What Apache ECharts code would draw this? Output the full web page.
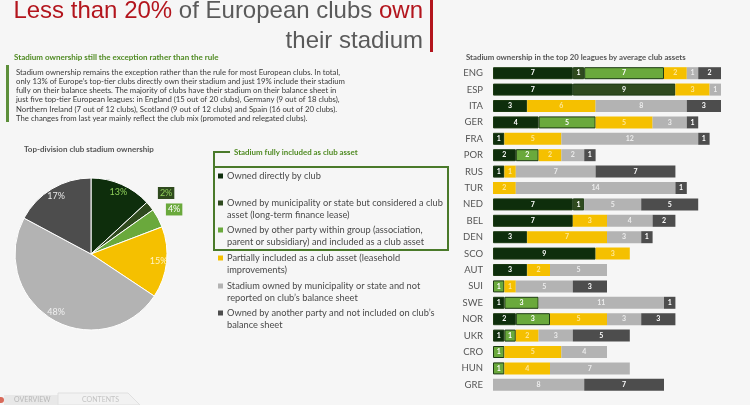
<!DOCTYPE html>
<html><head><meta charset="utf-8">
<script src="https://cdn.jsdelivr.net/npm/echarts@6/dist/echarts.min.js"></script>
<style>html,body{margin:0;padding:0;background:#f6f6f6}#c{width:750px;height:405px}</style>
</head><body><div id="c"></div>
<script>
// ---- data ----
const leagues = ['ENG','ESP','ITA','GER','FRA','POR','RUS','TUR','NED','BEL','DEN','SCO','AUT','SUI','SWE','NOR','UKR','CRO','HUN','GRE'];
const ownedClub      = [7,7,3,4,1,2,1,0,7,7,3,9,3,0,1,2,1,0,0,0];
const municipalAsset = [1,9,0,0,0,0,0,0,1,0,0,0,0,0,0,0,0,0,0,0];
const groupAsset     = [7,0,0,5,0,2,0,0,0,0,0,0,0,1,3,3,1,1,1,0];
const partial        = [2,3,6,5,5,2,1,2,0,3,7,3,2,1,0,5,2,5,4,0];
const municipalNot   = [1,1,8,3,12,2,7,14,5,4,3,0,5,5,11,3,3,4,7,8];
const otherParty     = [2,0,3,1,1,1,7,1,5,2,1,0,0,3,1,3,5,0,0,7];
const pieShares = [13,2,4,15,48,17];
const categoryNames = [
  ['Owned directly by club'],
  ['Owned by municipality or state but considered a club','asset (long-term finance lease)'],
  ['Owned by other party within group (association,','parent or subsidiary) and included as a club asset'],
  ['Partially included as a club asset (leasehold','improvements)'],
  ['Stadium owned by municipality or state and not','reported on club\u2019s balance sheet'],
  ['Owned by another party and not included on club\u2019s','balance sheet']
];
const paragraph = [
  'Stadium ownership remains the exception rather than the rule for most European clubs. In total,',
  'only 13% of Europe\u2019s top-tier clubs directly own their stadium and just 19% include their stadium',
  'fully on their balance sheets. The majority of clubs have their stadium on their balance sheet in',
  'just five top-tier European leagues: in England (15 out of 20 clubs), Germany (9 out of 18 clubs),',
  'Northern Ireland (7 out of 12 clubs), Scotland (9 out of 12 clubs) and Spain (16 out of 20 clubs).',
  'The changes from last year mainly reflect the club mix (promoted and relegated clubs).'
];

// ---- styling ----
const colors = ['#0e2e0c','#2f4a1e','#6aa93c','#f5c000','#b3b3b3','#4d4d4d'];
const barLabelColors = ['#ffffff','#ffffff','#ffffff','#fde79a','#ececec','#ffffff'];
const seriesData = [ownedClub, municipalAsset, groupAsset, partial, municipalNot, otherParty];
const FONT = 'Lato, "Open Sans", sans-serif';
const TFONT = '"Liberation Sans", Arial, sans-serif';

const chart = echarts.init(document.getElementById('c'), null, {renderer:'canvas'});

const barSeries = seriesData.map((arr, i) => ({
  type: 'bar', stack: 'all', name: categoryNames[i].join(' '),
  barWidth: 12,
  data: arr.map(v => v === 0 ? null : v),
  itemStyle: Object.assign({color: colors[i]}, i < 3 ? {borderColor:'#1c3a12', borderWidth:1} : {}),
  label: {show: true, position: 'inside', color: barLabelColors[i], fontSize: 7, fontWeight: 'bold', fontFamily: FONT},
  silent: true
}));

const pieCenter = [91, 254];
const pieLabelStyles = [
  {color:'#8fd05a', fontSize:9},
  {color:'#8fd05a', fontSize:9, backgroundColor:'#2f4a1e', padding:[2,2,1,2]},
  {color:'#ffffff', fontSize:9, backgroundColor:'#6aa93c', padding:[2,2,1,2]},
  {color:'#fff3c4', fontSize:9},
  {color:'#f0f0f0', fontSize:9},
  {color:'#e8e8e8', fontSize:9}
];
const pieRadiusFactor = [1.66,2.36,2.3,1.66,1.66,1.66];

const graphics = [];
// title
graphics.push({type:'text', x:423, y:11, style:{
  text:'{r|Less than 20%}{g| of European clubs }{r|own}', align:'right', verticalAlign:'middle',
  rich:{ r:{fill:'#b3151d', fontSize:24, fontFamily:TFONT},
         g:{fill:'#5a5a5a', fontSize:24, fontFamily:TFONT} }
}});
graphics.push({type:'text', x:423, y:41, style:{text:'their stadium', align:'right', verticalAlign:'middle',
  fill:'#5a5a5a', fontSize:24, fontFamily:TFONT}});
graphics.push({type:'rect', shape:{x:430, y:0, width:3, height:52}, style:{fill:'#b3151d'}});
// subtitle & paragraph
graphics.push({type:'text', x:14, y:57, style:{text:'Stadium ownership still the exception rather than the rule', verticalAlign:'middle',
  fill:'#4f8a22', fontSize:8, fontWeight:'bold', fontFamily:FONT}});
graphics.push({type:'rect', shape:{x:6, y:65, width:3, height:57}, style:{fill:'#5d8f3a'}});
paragraph.forEach((t, i) => graphics.push({type:'text', x:16, y:72 + i*9.3, style:{text:t, verticalAlign:'middle',
  fill:'#3a3a3a', fontSize:7.75, fontFamily:FONT}}));
// pie title
graphics.push({type:'text', x:24, y:149, style:{text:'Top-division club stadium ownership', verticalAlign:'middle',
  fill:'#555', fontSize:8, fontWeight:'bold', fontFamily:FONT}});
// bar title
graphics.push({type:'text', x:466, y:57, style:{text:'Stadium ownership in the top 20 leagues by average club assets', verticalAlign:'middle',
  fill:'#555', fontSize:7.8, fontWeight:'bold', fontFamily:FONT}});
// legend box
graphics.push({type:'text', x:234, y:152, style:{text:'Stadium fully included as club asset', verticalAlign:'middle',
  fill:'#4f8a22', fontSize:7.9, fontWeight:'bold', fontFamily:FONT}});
graphics.push({type:'polyline', shape:{points:[[230,152],[214,152],[214,167]]}, style:{stroke:'#4a7a2a', lineWidth:2, fill:null}});
graphics.push({type:'rect', shape:{x:214, y:167, width:234, height:83}, style:{stroke:'#4a7a2a', lineWidth:2, fill:'rgba(0,0,0,0)'}});
const legendY = [176, 203, 230, 258, 286, 313];
categoryNames.forEach((lines, i) => {
  graphics.push({type:'rect', shape:{x:218, y:legendY[i]-2.5, width:5, height:5}, style:{fill:colors[i]}});
  lines.forEach((t, j) => graphics.push({type:'text', x:227, y:legendY[i] + j*12.5, style:{text:t, verticalAlign:'middle',
    fill:'#4a4a4a', fontSize:9.25, fontFamily:FONT}}));
});
// bottom tabs
graphics.push({type:'polygon', shape:{points:[[4,405],[4,395],[58,395],[66,405]]}, style:{fill:'#e8e8e8'}});
graphics.push({type:'polygon', shape:{points:[[58,405],[58,393],[128,393],[140,405]]}, style:{fill:'#f2f2f2', stroke:'#e0e0e0'}});
graphics.push({type:'circle', shape:{cx:1, cy:400, r:3}, style:{fill:'#d86a5a'}});
graphics.push({type:'text', x:14, y:400, style:{text:'OVERVIEW', verticalAlign:'middle', fill:'#b8b8b8', fontSize:7, fontFamily:FONT}});
graphics.push({type:'text', x:82, y:400, style:{text:'CONTENTS', verticalAlign:'middle', fill:'#c4c4c4', fontSize:7, fontFamily:FONT}});

const option = {
  backgroundColor: '#f6f6f6',
  animation: false,
  grid: {left: 493, top: 65, width: 228, height: 328, containLabel: false},
  xAxis: {type:'value', min:0, max:20, show:false},
  yAxis: {type:'category', data: leagues, inverse: true,
    axisLine:{show:false}, axisTick:{show:false},
    axisLabel:{margin:10, color:'#555', fontSize:9.5, fontFamily:FONT}},
  series: barSeries.concat([{
    type:'pie', center: pieCenter, radius: 76, startAngle: 90, clockwise: true,
    silent: true,
    data: pieShares.map((v,i) => ({value:v, name:categoryNames[i].join(' '),
      itemStyle:{color:colors[i]},
      label: Object.assign({show:true, position:'inside', formatter:'{c}%', fontFamily:FONT}, pieLabelStyles[i])})),
    itemStyle:{borderColor:'#ffffff', borderWidth:1},
    labelLine:{show:false},
    labelLayout: function (p) {
      const r = p.labelRect;
      const lx = r.x + r.width/2, ly = r.y + r.height/2;
      const k = pieRadiusFactor[p.dataIndex] - 1;
      return {dx: (lx - pieCenter[0]) * k, dy: (ly - pieCenter[1]) * k};
    }
  }]),
  graphic: graphics
};
chart.setOption(option);
</script></body></html>
